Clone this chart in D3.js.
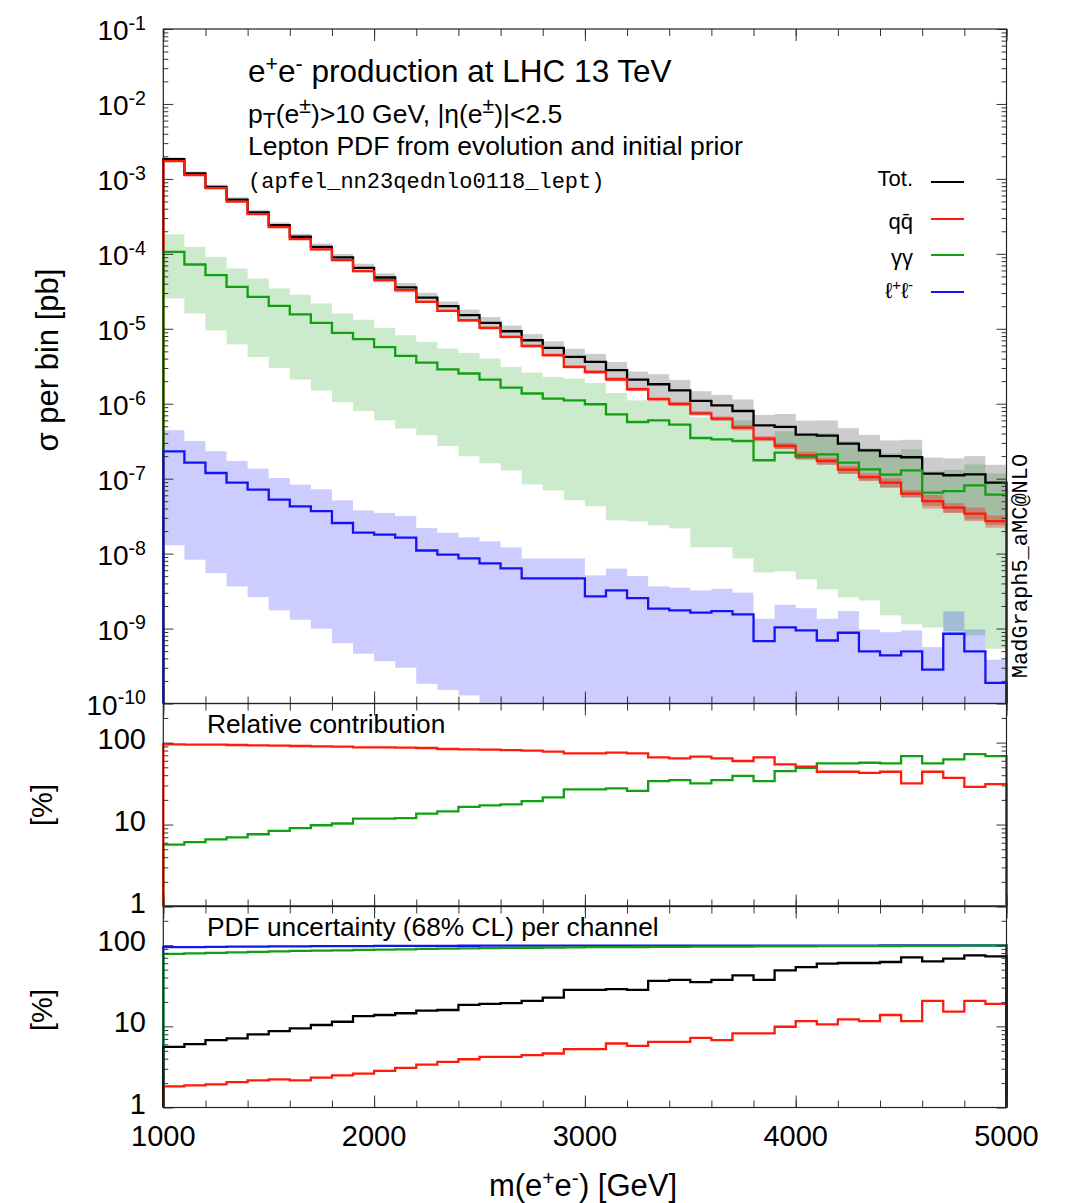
<!DOCTYPE html>
<html><head><meta charset="utf-8">
<script src="https://cdn.jsdelivr.net/npm/d3@7"></script>
<style>body{margin:0;background:#fff}svg{display:block}</style>
</head><body>
<svg id="c" width="1069" height="1203"></svg>
<script>
// ---------------- DATA ----------------
const binStart = [1000,1100,1200,1300,1400,1500,1600,1700,1800,1900,2000,2100,2200,2300,2400,2500,2600,2700,2800,2900,3000,3100,3200,3300,3400,3500,3600,3700,3800,3900,4000,4100,4200,4300,4400,4500,4600,4700,4800,4900];
const binWidth = 100;
// sigma per bin [pb]
const tot = [1.84e-3,1.18e-3,7.83e-4,5.3e-4,3.56e-4,2.42e-4,1.69e-4,1.24e-4,8.95e-5,6.50e-5,4.83e-5,3.56e-5,2.61e-5,2.00e-5,1.52e-5,1.20e-5,9.27e-6,7.03e-6,5.55e-6,4.21e-6,3.61e-6,2.80e-6,2.10e-6,1.82e-6,1.51e-6,1.09e-6,9.53e-7,8.00e-7,5.15e-7,4.90e-7,3.87e-7,3.76e-7,2.94e-7,2.39e-7,2.00e-7,1.93e-7,1.17e-7,1.11e-7,1.14e-7,8.85e-8];
const totHi = [1.94e-3,1.25e-3,8.36e-4,5.68e-4,3.84e-4,2.63e-4,1.85e-4,1.37e-4,9.97e-5,7.37e-5,5.50e-5,4.08e-5,3.02e-5,2.32e-5,1.80e-5,1.43e-5,1.106e-5,8.48e-6,6.80e-6,5.40e-6,4.63e-6,3.60e-6,2.69e-6,2.48e-6,2.08e-6,1.47e-6,1.31e-6,1.14e-6,7.08e-7,7.30e-7,5.95e-7,5.99e-7,4.72e-7,3.83e-7,3.24e-7,3.30e-7,1.91e-7,1.87e-7,2.00e-7,1.53e-7];
const totLo = [1.74e-3,1.11e-3,7.30e-4,4.92e-4,3.28e-4,2.21e-4,1.53e-4,1.11e-4,7.93e-5,5.63e-5,4.16e-5,3.04e-5,2.20e-5,1.68e-5,1.24e-5,9.73e-6,7.48e-6,5.58e-6,4.30e-6,3.02e-6,2.59e-6,2.00e-6,1.51e-6,1.16e-6,9.44e-7,7.07e-7,5.96e-7,4.61e-7,3.22e-7,2.50e-7,1.79e-7,1.53e-7,1.16e-7,9.46e-8,7.58e-8,5.64e-8,4.32e-8,3.53e-8,2.85e-8,2.41e-8];
const qqbar = [1.73e-3,1.12e-3,7.53e-4,4.98e-4,3.39e-4,2.27e-4,1.57e-4,1.15e-4,8.22e-5,5.87e-5,4.45e-5,3.27e-5,2.29e-5,1.73e-5,1.30e-5,1.03e-5,7.78e-6,5.90e-6,4.44e-6,3.10e-6,2.65e-6,2.12e-6,1.56e-6,1.15e-6,9.93e-7,7.45e-7,6.34e-7,4.80e-7,3.43e-7,2.73e-7,2.05e-7,1.72e-7,1.32e-7,1.05e-7,8.85e-8,6.31e-8,5.02e-8,4.10e-8,3.41e-8,2.72e-8];
const qqHi = [1.76e-3,1.14e-3,7.68e-4,5.08e-4,3.46e-4,2.32e-4,1.60e-4,1.18e-4,8.42e-5,6.02e-5,4.58e-5,3.37e-5,2.37e-5,1.79e-5,1.35e-5,1.07e-5,8.11e-6,6.16e-6,4.65e-6,3.26e-6,2.79e-6,2.25e-6,1.65e-6,1.22e-6,1.06e-6,7.99e-7,6.77e-7,5.19e-7,3.71e-7,3.00e-7,2.29e-7,1.90e-7,1.48e-7,1.17e-7,1.01e-7,7.04e-8,6.05e-8,4.72e-8,4.11e-8,3.23e-8];
const qqLo = [1.70e-3,1.10e-3,7.38e-4,4.88e-4,3.32e-4,2.22e-4,1.54e-4,1.12e-4,8.02e-5,5.72e-5,4.32e-5,3.17e-5,2.21e-5,1.67e-5,1.25e-5,9.87e-6,7.45e-6,5.64e-6,4.23e-6,2.94e-6,2.51e-6,1.99e-6,1.47e-6,1.08e-6,9.29e-7,6.91e-7,5.91e-7,4.41e-7,3.15e-7,2.46e-7,1.81e-7,1.54e-7,1.16e-7,9.28e-8,7.63e-8,5.58e-8,3.99e-8,3.48e-8,2.71e-8,2.21e-8];
const gamgam = [1.06e-4,7.21e-5,5.19e-5,3.62e-5,2.66e-5,2.02e-5,1.56e-5,1.20e-5,8.81e-6,7.26e-6,5.68e-6,4.35e-6,3.54e-6,2.88e-6,2.53e-6,2.10e-6,1.64e-6,1.37e-6,1.17e-6,1.11e-6,9.84e-7,7.23e-7,5.70e-7,6.01e-7,5.27e-7,3.49e-7,3.35e-7,3.18e-7,1.76e-7,2.23e-7,1.95e-7,2.11e-7,1.64e-7,1.33e-7,1.13e-7,1.29e-7,6.52e-8,6.84e-8,8.15e-8,6.12e-8];
const gamHi = [1.82e-4,1.24e-4,9.12e-5,6.38e-5,4.69e-5,3.45e-5,2.85e-5,2.18e-5,1.60e-5,1.32e-5,1.03e-5,8.20e-6,6.68e-6,5.45e-6,4.76e-6,4.01e-6,3.10e-6,2.61e-6,2.28e-6,2.17e-6,1.89e-6,1.39e-6,1.11e-6,1.11e-6,9.84e-7,6.59e-7,6.30e-7,6.01e-7,3.35e-7,4.29e-7,3.73e-7,4.03e-7,3.16e-7,2.54e-7,2.18e-7,2.47e-7,1.25e-7,1.31e-7,1.55e-7,1.18e-7];
const gamLo = [2.54e-5,1.60e-5,9.5e-6,6.2e-6,4.2e-6,3.0e-6,2.1e-6,1.5e-6,1.05e-6,8.0e-7,6.0e-7,4.66e-7,3.79e-7,2.73e-7,1.99e-7,1.60e-7,1.29e-7,8.39e-8,6.98e-8,5.14e-8,4.28e-8,2.78e-8,2.69e-8,2.38e-8,2.17e-8,1.21e-8,1.21e-8,8.63e-9,5.61e-9,5.79e-9,4.53e-9,3.33e-9,2.61e-9,2.37e-9,1.50e-9,1.14e-9,1.03e-9,9.25e-10,8.09e-10,5.37e-10];
const lepl = [2.32e-7,1.64e-7,1.19e-7,8.85e-8,7.14e-8,5.25e-8,4.28e-8,3.70e-8,2.56e-8,1.90e-8,1.79e-8,1.63e-8,1.10e-8,9.68e-9,8.63e-9,7.41e-9,6.35e-9,4.67e-9,4.67e-9,4.67e-9,2.69e-9,3.23e-9,2.55e-9,1.84e-9,1.75e-9,1.63e-9,1.71e-9,1.55e-9,6.79e-10,1.04e-9,9.44e-10,6.93e-10,8.79e-10,4.95e-10,4.38e-10,4.95e-10,2.84e-10,8.53e-10,4.95e-10,1.89e-10];
const lepHi = [4.43e-7,3.18e-7,2.32e-7,1.72e-7,1.36e-7,1.02e-7,8.32e-8,7.21e-8,5.14e-8,3.78e-8,3.48e-8,3.17e-8,2.19e-8,1.90e-8,1.65e-8,1.46e-8,1.21e-8,8.63e-9,8.63e-9,8.63e-9,5.12e-9,6.30e-9,5.01e-9,3.65e-9,3.51e-9,3.23e-9,3.40e-9,3.01e-9,1.35e-9,2.08e-9,1.87e-9,1.35e-9,1.71e-9,9.72e-10,8.95e-10,9.44e-10,5.65e-10,1.69e-9,9.72e-10,3.84e-10];
const lepLo = [1.29e-8,8.30e-9,5.50e-9,3.65e-9,2.63e-9,1.75e-9,1.31e-9,9.95e-10,6.38e-10,4.61e-10,3.67e-10,3.00e-10,1.83e-10,1.52e-10,1.28e-10,1.03e-10,8.3e-11,6.0e-11,6.0e-11,6.0e-11,3.3e-11,4.0e-11,3.0e-11,2.2e-11,2.0e-11,1.9e-11,2.0e-11,1.8e-11,8e-12,1.2e-11,1.1e-11,8e-12,1.0e-11,6e-12,5e-12,6e-12,3e-12,1.0e-11,6e-12,2e-12];
// relative contribution [%]
const relQQ = [95,94.3,94.3,93.5,92.7,91.7,90.9,90.0,89.1,87.5,87.5,86.6,85.9,83.5,82.8,81.9,81.1,79.6,77.4,74.0,74.0,75.3,74.0,66.1,64.2,67.3,64.2,59.6,66.1,54.3,50.8,44.1,44.1,42.8,44.1,31.8,44.1,37.2,28.8,31.1];
const relGam = [5.69,6.12,6.61,6.99,7.61,8.35,9.02,9.80,10.3,11.8,11.8,12.0,13.6,14.5,16.4,17.1,17.6,19.3,21.4,26.8,26.8,27.6,25.8,33.9,34.9,31.8,34.9,39.3,33.9,44.9,49.3,55.8,55.8,56.8,55.8,68.5,55.8,62.5,72.5,68.5];
const relLep = [0.013,0.014,0.015,0.017,0.020,0.022,0.025,0.030,0.029,0.029,0.037,0.046,0.042,0.048,0.057,0.062,0.068,0.066,0.084,0.11,0.075,0.12,0.12,0.10,0.12,0.15,0.18,0.19,0.13,0.21,0.24,0.18,0.30,0.21,0.22,0.26,0.24,0.77,0.43,0.21];
// PDF uncertainty (68% CL) per channel [%]
const uncTot = [5.59,6.04,6.76,7.10,7.96,8.74,9.45,10.4,11.4,13.4,13.8,14.5,15.6,15.9,18.4,18.9,19.3,20.6,22.6,28.2,28.2,28.7,28.2,36.4,37.5,35.1,37.5,42.4,37.5,48.9,53.8,59.2,60.4,60.4,62.1,70.8,63.1,68.2,75.0,72.8];
const uncQQ = [1.82,1.87,1.93,2.06,2.16,2.22,2.16,2.33,2.49,2.62,2.82,3.07,3.38,3.64,3.93,4.20,4.20,4.41,4.63,5.23,5.23,6.15,5.75,6.44,6.44,7.22,6.76,8.19,8.19,9.89,11.6,10.6,12.2,11.6,13.8,11.6,20.6,15.2,20.6,18.9];
const uncGam = [78.4,79.5,80.5,81.6,82.6,84.0,85.0,85.8,86.6,87.5,88.3,89.0,90.0,90.7,91.5,92.0,92.5,93.0,93.5,94.2,94.5,94.8,95.1,95.4,95.6,95.9,96.1,96.3,96.6,96.8,97.0,97.2,97.4,97.6,97.8,98.0,98.2,98.4,98.6,98.8];
const uncLep = [94.5,94.9,95.4,95.9,96.3,96.7,96.9,97.3,97.5,97.6,97.9,98.2,98.3,98.4,98.5,98.6,98.7,98.7,98.8,98.8,98.9,98.9,98.9,99.0,99.0,99.0,99.0,99.0,99.1,99.1,99.1,99.1,99.1,99.1,99.2,99.2,99.2,99.2,99.2,99.2];
// ticks
const mainTickExps = [-10,-9,-8,-7,-6,-5,-4,-3,-2,-1];
const pctTicks = [1,10,100];
const xTickLabels = [1000,2000,3000,4000,5000];
const xDomain = [1000,5000];

// ---------------- LAYOUT ----------------
const svg = d3.select("#c");
const FONT = "'Liberation Sans', Arial, Helvetica, sans-serif";
const MONO = "'Liberation Mono', 'DejaVu Sans Mono', monospace";
const XL = 163.3, XR = 1006.5;
const x = d3.scaleLinear().domain(xDomain).range([XL, XR]);
const COL = {tot:"#000000", qq:"#ff1a0a", gam:"#12a012", lep:"#1414f0"};

const panels = {
  main: {top:29, bottom:703.5, y:d3.scaleLog().domain([1e-10,1e-1]).range([703.5,29])},
  rel:  {top:703.5, bottom:906.5, y:d3.scaleLog().domain([1,300]).range([906.5,703.5])},
  unc:  {top:906.5, bottom:1107.5, y:d3.scaleLog().domain([1,300]).range([1107.5,906.5])}
};

const defs = svg.append("defs");
Object.entries(panels).forEach(([k,p])=>{
  defs.append("clipPath").attr("id","clip-"+k).append("rect")
    .attr("x",XL-1.5).attr("y",p.top).attr("width",XR-XL+3).attr("height",p.bottom-p.top);
  p.g = svg.append("g").attr("clip-path",`url(#clip-${k})`);
});

function band(p, hi, lo, color, op){
  const y = p.y, dmin = y.domain()[0];
  p.g.append("g").selectAll("rect").data(binStart).join("rect")
    .attr("x", d=>x(d)).attr("width", d=>x(d+binWidth)-x(d))
    .attr("y", (d,i)=>y(hi[i]))
    .attr("height", (d,i)=>y(Math.max(lo[i],dmin*0.5))-y(hi[i]))
    .attr("fill", color).attr("fill-opacity", op);
}
function hist(p, vals, color, w=2.3){
  const y = p.y, dmin = y.domain()[0];
  const pts = [[binStart[0], dmin]];
  vals.forEach((v,i)=>pts.push([binStart[i], v]));
  pts.push([binStart[binStart.length-1]+binWidth, vals[vals.length-1]]);
  pts.push([binStart[binStart.length-1]+binWidth, dmin]);
  const line = d3.line().x(d=>x(d[0])).y(d=>y(Math.max(d[1],dmin))).curve(d3.curveStepAfter);
  p.g.append("path").attr("d", line(pts)).attr("fill","none")
    .attr("stroke", color).attr("stroke-width", w).attr("stroke-linejoin","miter");
}

// main panel
const M = panels.main;
band(M, gamHi, gamLo, "#009a00", 0.2);
band(M, lepHi, lepLo, "#0000ff", 0.2);
band(M, totHi, totLo, "#000000", 0.2);
band(M, qqHi, qqLo, "#ff0000", 0.3);
hist(M, tot, COL.tot);
hist(M, qqbar, COL.qq);
hist(M, gamgam, COL.gam);
hist(M, lepl, COL.lep);

// relative contribution
const R = panels.rel;
hist(R, relLep, COL.lep);
hist(R, relGam, COL.gam);
hist(R, relQQ, COL.qq);

// uncertainty
const U = panels.unc;
hist(U, uncLep, COL.lep);
hist(U, uncGam, COL.gam);
hist(U, uncQQ, COL.qq);
hist(U, uncTot, COL.tot);

// ---------------- AXES / TICKS ----------------
const xMinor = d3.range(xDomain[0], xDomain[1]+1, 200);
function yTicks(p, majors, minors){
  const mk = (axis, tv, size, tx) => {
    const g = svg.append("g").attr("transform",`translate(${tx},0)`)
      .call(axis(p.y).tickValues(tv).tickSize(size).tickFormat(""));
    g.select(".domain").remove();
    g.selectAll("line").attr("stroke","#333").attr("stroke-width",1);
  };
  mk(d3.axisLeft, majors, -10, XL); mk(d3.axisLeft, minors, -5, XL);
  mk(d3.axisRight, majors, -10, XR); mk(d3.axisRight, minors, -5, XR);
  const mkx = (axis, tv, size, ty) => {
    const g = svg.append("g").attr("transform",`translate(0,${ty})`)
      .call(axis(x).tickValues(tv).tickSize(size).tickFormat(""));
    g.select(".domain").remove();
    g.selectAll("line").attr("stroke","#333").attr("stroke-width",1);
  };
  mkx(d3.axisBottom, xMinor, -7, p.bottom); mkx(d3.axisBottom, xTickLabels, -12, p.bottom);
  mkx(d3.axisTop, xMinor, -7, p.top); mkx(d3.axisTop, xTickLabels, -12, p.top);
  svg.append("rect").attr("x",XL).attr("y",p.top).attr("width",XR-XL).attr("height",p.bottom-p.top)
    .attr("fill","none").attr("stroke","#222").attr("stroke-width",1.2);
}
const mainMajors = mainTickExps.map(e=>Math.pow(10,e));
const mainMinors = [];
mainTickExps.slice(0,-1).forEach(e=>{ for(let m=2;m<=9;m++) mainMinors.push(m*Math.pow(10,e)); });
yTicks(M, mainMajors, mainMinors);
const pctMinors = [2,3,4,5,6,7,8,9,20,30,40,50,60,70,80,90,200];
yTicks(R, pctTicks, pctMinors);
yTicks(U, pctTicks, pctMinors);

// ---------------- TEXT ----------------
function rich(sel, parts, size, supScale=0.68, subShift=0.24){
  let shift = 0;
  parts.forEach(([t,k])=>{
    const target = k==="sup" ? -size*0.36 : k==="sub" ? size*subShift : 0;
    sel.append("tspan").text(t).attr("dy", target-shift).attr("font-size", k ? size*supScale : size);
    shift = target;
  });
}
// main y tick labels
mainTickExps.forEach(e=>{
  const t = svg.append("text").attr("x",146).attr("y",M.y(Math.pow(10,e))+11)
    .attr("text-anchor","end").attr("font-family",FONT).attr("fill","#000");
  rich(t, [["10",""],[String(e),"sup"]], 28, 0.7);
});
[R,U].forEach(p=>{
  pctTicks.forEach(v=>{
    svg.append("text").attr("x",146).attr("y",p.y(v)+6).attr("text-anchor","end")
      .attr("font-family",FONT).attr("font-size",29).text(v);
  });
});
xTickLabels.forEach(v=>{
  svg.append("text").attr("x",x(v)).attr("y",1146).attr("text-anchor","middle")
    .attr("font-family",FONT).attr("font-size",29).text(v);
});
// axis titles
svg.append("text").attr("transform","translate(58,360) rotate(-90)").attr("text-anchor","middle")
  .attr("font-family",FONT).attr("font-size",31).text("σ per bin [pb]");
svg.append("text").attr("transform","translate(52,805) rotate(-90)").attr("text-anchor","middle")
  .attr("font-family",FONT).attr("font-size",29).text("[%]");
svg.append("text").attr("transform","translate(52,1010) rotate(-90)").attr("text-anchor","middle")
  .attr("font-family",FONT).attr("font-size",29).text("[%]");
{
  const t = svg.append("text").attr("x",583).attr("y",1196).attr("text-anchor","middle").attr("font-family",FONT);
  rich(t, [["m(e",""],["+","sup"],["e",""],["-","sup"],[") [GeV]",""]], 31);
}
// titles
{
  const t = svg.append("text").attr("x",248).attr("y",82).attr("font-family",FONT);
  rich(t, [["e",""],["+","sup"],["e",""],["-","sup"],[" production at LHC 13 TeV",""]], 31.5);
  const t2 = svg.append("text").attr("x",248).attr("y",123).attr("font-family",FONT);
  rich(t2, [["p",""],["T","sub"],["(e",""],["±","sup"],[")>10 GeV, |η(e",""],["±","sup"],[")|<2.5",""]], 26.5, 0.8, 0.18);
  svg.append("text").attr("x",248).attr("y",155).attr("font-family",FONT).attr("font-size",26.5)
    .text("Lepton PDF from evolution and initial prior");
  svg.append("text").attr("x",248).attr("y",188).attr("font-family",MONO).attr("font-size",22)
    .text("(apfel_nn23qednlo0118_lept)");
}
svg.append("text").attr("x",207).attr("y",733).attr("font-family",FONT).attr("font-size",26.3)
  .text("Relative contribution");
svg.append("text").attr("x",207).attr("y",936).attr("font-family",FONT).attr("font-size",26.3)
  .text("PDF uncertainty (68% CL) per channel");
svg.append("text").attr("transform","translate(1027,566) rotate(-90)").attr("text-anchor","middle")
  .attr("font-family",MONO).attr("font-size",22).text("MadGraph5_aMC@NLO");

// legend
const legendItems = [
  {parts:[["Tot.",""]], color:COL.tot, ly:182, ty:186},
  {parts:[["qq̄",""]], color:COL.qq, ly:219, ty:229},
  {parts:[["γγ",""]], color:COL.gam, ly:255, ty:265},
  {parts:[["ℓ",""],["+","sup"],["ℓ",""],["-","sup"]], color:COL.lep, ly:292, ty:298}
];
legendItems.forEach(it=>{
  const t = svg.append("text").attr("x",913).attr("y",it.ty).attr("text-anchor","end").attr("font-family",FONT);
  rich(t, it.parts, 22);
  svg.append("line").attr("x1",931).attr("x2",964).attr("y1",it.ly).attr("y2",it.ly)
    .attr("stroke",it.color).attr("stroke-width",2.2);
});
</script>
</body></html>
